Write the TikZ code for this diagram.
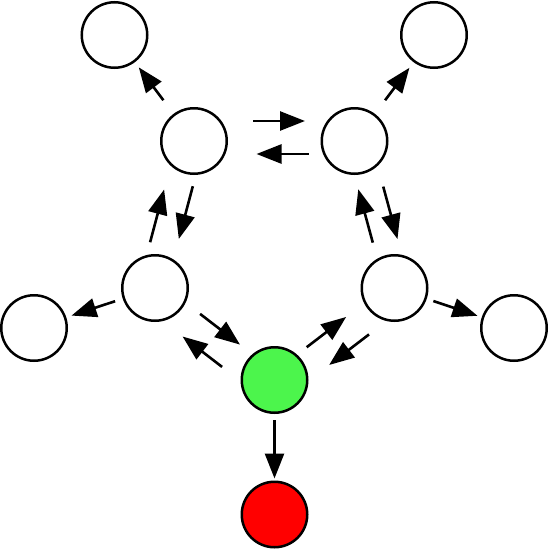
\documentclass[tikz,border=0pt]{standalone}
\usepackage{tikz}
\usetikzlibrary{arrows.meta}
\definecolor{startgreen}{RGB}{76,245,76}
\definecolor{sinkred}{RGB}{255,0,0}

\begin{document}
\begin{tikzpicture}[->, >={Triangle[length=25pt,width=19pt]}, x=1pt, y=-1pt, line width=2.6pt,
	site/.style={circle, draw, line width=2.5pt, fill=white, minimum size=65.5pt, inner sep=0pt}]
	\useasboundingbox (0,0) rectangle (549,549);
	
	% States
	\node[site, fill=startgreen] (S0) at (274.5,380) {};
	\node[site] (S1) at (155,288) {};
	\node[site] (S2) at (194,141) {};
	\node[site] (S3) at (354.5,141) {};
	\node[site] (S4) at (394.5,288) {};
	\node[site, fill=sinkred] (S5) at (274.5,514.5) {};
	\node[site] (S6) at (34,328) {};
	\node[site] (S7) at (114.5,35) {};
	\node[site] (S8) at (434,35) {};
	\node[site] (S9) at (514,328) {};
	
	% Edges
	\path (S0) edge[shorten <=6pt, shorten >=2pt] (S5);
	\path (S1) edge[shorten <=8pt, shorten >=5.5pt] (S6);
	\path (S2) edge[shorten <=17pt, shorten >=6.5pt] (S7);
	\path (S3) edge[shorten <=17pt, shorten >=7pt] (S8);
	\path (S4) edge[shorten <=7pt, shorten >=4.5pt] (S9);
	\path (S2) edge[transform canvas={shift={(0,-20)}}, shorten <=25pt, shorten >=15.5pt] (S3);
	\path (S3) edge[transform canvas={shift={(0,13)}}, shorten <=12pt, shorten >=28.5pt] (S2);
	\path (S2) edge[transform canvas={shift={(10.1,2.7)}}, shorten <=10pt, shorten >=19.5pt] (S1);
	\path (S1) edge[transform canvas={shift={(-15.9,-4.2)}}, shorten <=9pt, shorten >=20.5pt] (S2);
	\path (S3) edge[transform canvas={shift={(15.2,-4.1)}}, shorten <=17.5pt, shorten >=12.5pt] (S4);
	\path (S4) edge[transform canvas={shift={(-8.7,2.4)}}, shorten <=15.5pt, shorten >=13.5pt] (S3);
	\path (S1) edge[transform canvas={shift={(4.3,-5.5)}}, shorten <=17.5pt, shorten >=15pt] (S0);
	\path (S0) edge[transform canvas={shift={(-13.2,17.1)}}, shorten <=15.5pt, shorten >=17.5pt] (S1);
	\path (S0) edge[transform canvas={shift={(-3.9,-5.1)}}, shorten <=11.5pt, shorten >=22pt] (S4);
	\path (S4) edge[transform canvas={shift={(13,16.9)}}, shorten <=14.5pt, shorten >=18.5pt] (S0);
	
\end{tikzpicture}
\end{document}
